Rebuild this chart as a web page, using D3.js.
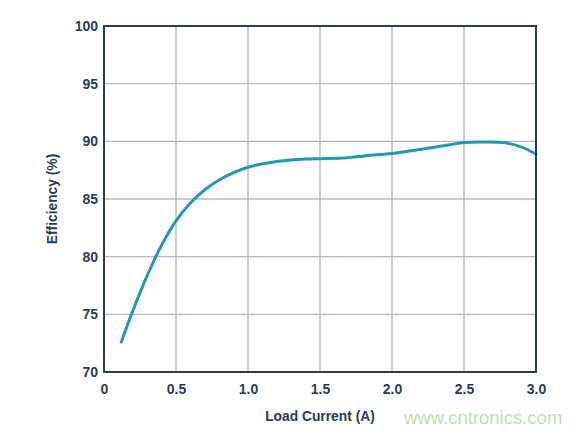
<!DOCTYPE html>
<html>
<head>
<meta charset="utf-8">
<script src="https://cdn.jsdelivr.net/npm/d3@7"></script>
<style>
    body { margin: 0; background: #fff; }
    .tick text { font-family: "Liberation Sans", Arial, sans-serif; font-weight: bold; font-size: 14px; fill: #2b3c4e; }
    .axisTitle { font-family: "Liberation Sans", Arial, sans-serif; font-weight: bold; font-size: 13.8px; fill: #2b3c4e; }
    .gridLines line { stroke: #b9b9c6; stroke-width: 1.4; }
    .frame { fill: none; stroke: #2b3c4e; stroke-width: 2; }
    .curve { fill: none; stroke: #2299b0; stroke-width: 3; stroke-linejoin: round; stroke-linecap: round; }
    .watermark { font-family: "Liberation Sans", Arial, sans-serif; font-size: 18.5px; fill: #bfe0b0; }
</style>
</head>
<body>
<script>
//efficiency curve
var loadCurrent = [0.12, 0.2, 0.3, 0.4, 0.5, 0.6, 0.7, 0.8, 0.9, 1.0, 1.1, 1.2, 1.3, 1.4, 1.5, 1.65, 1.82, 2.0, 2.12, 2.25, 2.4, 2.5, 2.65, 2.77, 2.9, 3.0];
var efficiency = [72.6, 75.3, 78.35, 81.0, 83.1, 84.65, 85.8, 86.65, 87.28, 87.75, 88.05, 88.25, 88.38, 88.46, 88.5, 88.55, 88.76, 88.94, 89.17, 89.4, 89.7, 89.9, 89.95, 89.9, 89.5, 88.9];

//tick labels
var xTicks = [0, 0.5, 1.0, 1.5, 2.0, 2.5, 3.0];
var yTicks = [70, 75, 80, 85, 90, 95, 100];

(function(){
    var width = 588,
        height = 435,
        left = 104,
        right = 536,
        top = 26,
        bottom = 372;

    var svg = d3.select("body")
        .append("svg")
        .attr("width", width)
        .attr("height", height);

    var x = d3.scaleLinear().domain([0, 3]).range([left, right]);
    var y = d3.scaleLinear().domain([70, 100]).range([bottom, top]);

    //vertical grid lines
    svg.append("g")
        .attr("class", "gridLines")
        .selectAll("line")
        .data(xTicks.slice(1, -1))
        .enter()
        .append("line")
        .attr("x1", function(d){ return x(d); })
        .attr("x2", function(d){ return x(d); })
        .attr("y1", top)
        .attr("y2", bottom);

    //horizontal grid lines
    svg.append("g")
        .attr("class", "gridLines")
        .selectAll("line")
        .data(yTicks.slice(1, -1))
        .enter()
        .append("line")
        .attr("x1", left)
        .attr("x2", right)
        .attr("y1", function(d){ return y(d); })
        .attr("y2", function(d){ return y(d); });

    //axes, only labels shown
    var xAxis = svg.append("g")
        .attr("transform", "translate(0," + bottom + ")")
        .call(d3.axisBottom(x).tickValues(xTicks).tickSize(0).tickPadding(12)
            .tickFormat(function(d){ return d === 0 ? "0" : d3.format(".1f")(d); }));
    xAxis.select(".domain").remove();

    var yAxis = svg.append("g")
        .attr("transform", "translate(" + left + ",0)")
        .call(d3.axisLeft(y).tickValues(yTicks).tickSize(0).tickPadding(6));
    yAxis.select(".domain").remove();

    //data curve
    var pts = loadCurrent.map(function(d, i){ return [d, efficiency[i]]; });
    var line = d3.line()
        .x(function(d){ return x(d[0]); })
        .y(function(d){ return y(d[1]); })
        .curve(d3.curveCatmullRom.alpha(0.5));

    svg.append("path")
        .datum(pts)
        .attr("class", "curve")
        .attr("d", line);

    //plot frame
    svg.append("rect")
        .attr("class", "frame")
        .attr("x", left)
        .attr("y", top)
        .attr("width", right - left)
        .attr("height", bottom - top);

    //axis titles
    svg.append("text")
        .attr("class", "axisTitle")
        .attr("x", (left + right) / 2)
        .attr("y", 421)
        .attr("text-anchor", "middle")
        .text("Load Current (A)");

    svg.append("text")
        .attr("class", "axisTitle")
        .attr("transform", "translate(56.5," + (top + bottom) / 2 + ") rotate(-90)")
        .attr("text-anchor", "middle")
        .text("Efficiency (%)");

    //watermark
    svg.append("text")
        .attr("class", "watermark")
        .attr("x", 404)
        .attr("y", 424)
        .text("www.cntronics.com");
})();
</script>
</body>
</html>
